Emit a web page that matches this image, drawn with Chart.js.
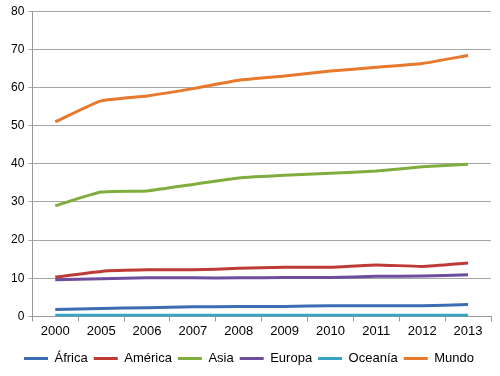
<!DOCTYPE html>
<html>
<head>
<meta charset="utf-8">
<script src="https://cdn.jsdelivr.net/npm/chart.js@4/dist/chart.umd.min.js"></script>
<style>
html,body{margin:0;padding:0;background:#fff;}
#wrap{width:500px;height:376px;}
</style>
</head>
<body>
<div id="wrap"><canvas id="c"></canvas></div>
<script>
// years on x axis
const years = ['2000','2005','2006','2007','2008','2009','2010','2011','2012','2013'];

const africa  = [1.8, 2.1, 2.3, 2.5, 2.6, 2.6, 2.8, 2.8, 2.8, 3.1];
const america = [10.3, 11.8, 12.2, 12.2, 12.6, 12.9, 12.9, 13.5, 13.1, 14.0];
const asia    = [29.0, 32.6, 32.9, 34.6, 36.3, 37.0, 37.5, 38.1, 39.2, 39.9];
const europa  = [9.6, 9.9, 10.1, 10.1, 10.1, 10.2, 10.2, 10.5, 10.6, 10.9];
const oceania = [0.3, 0.3, 0.3, 0.3, 0.3, 0.3, 0.3, 0.3, 0.3, 0.3];
const mundo   = [51.0, 56.5, 57.8, 59.7, 61.9, 63.0, 64.3, 65.3, 66.3, 68.4];

const names  = ['África','América','Asia','Europa','Oceanía','Mundo'];
const colors = ['#3d6db5','#be3a36','#80ae3e','#6f4d9e','#36a3c4','#e8782b'];
const series = [africa, america, asia, europa, oceania, mundo];

let ds = [];
series.forEach((s, k) => {
  ds.push({
    label: names[k],
    data: s,
    borderColor: colors[k],
    backgroundColor: colors[k],
    borderWidth: 3,
    pointRadius: 0,
    pointStyle: 'line',
    tension: 0.15,
    fill: false
  });
});

Chart.defaults.font.family = '"Liberation Sans", Arial, sans-serif';
Chart.defaults.color = '#000';

new Chart(document.getElementById('c').getContext('2d'), {
  type: 'line',
  data: { labels: years, datasets: ds },
  options: {
    responsive: true,
    maintainAspectRatio: false,
    animation: false,
    layout: { padding: { top: 5, right: 9, left: 7, bottom: 1 } },
    plugins: {
      legend: {
        position: 'bottom',
        labels: {
          usePointStyle: true,
          pointStyleWidth: 24,
          boxHeight: 3,
          padding: 6,
          font: { size: 13 }
        }
      },
      tooltip: { enabled: false }
    },
    scales: {
      x: {
        offset: true,
        grid: { offset: true, drawOnChartArea: false, color: '#999', tickLength: 5 },
        border: { color: '#999' },
        ticks: { font: { size: 13 }, padding: 2, maxRotation: 0 },
        afterFit: function(s) { s.height += 5; }
      },
      y: {
        min: 0, max: 80,
        ticks: { stepSize: 10, font: { size: 12 }, padding: 4 },
        grid: { color: '#a6a6a6', tickLength: 4 },
        border: { color: '#999' }
      }
    }
  }
});
</script>
</body>
</html>
